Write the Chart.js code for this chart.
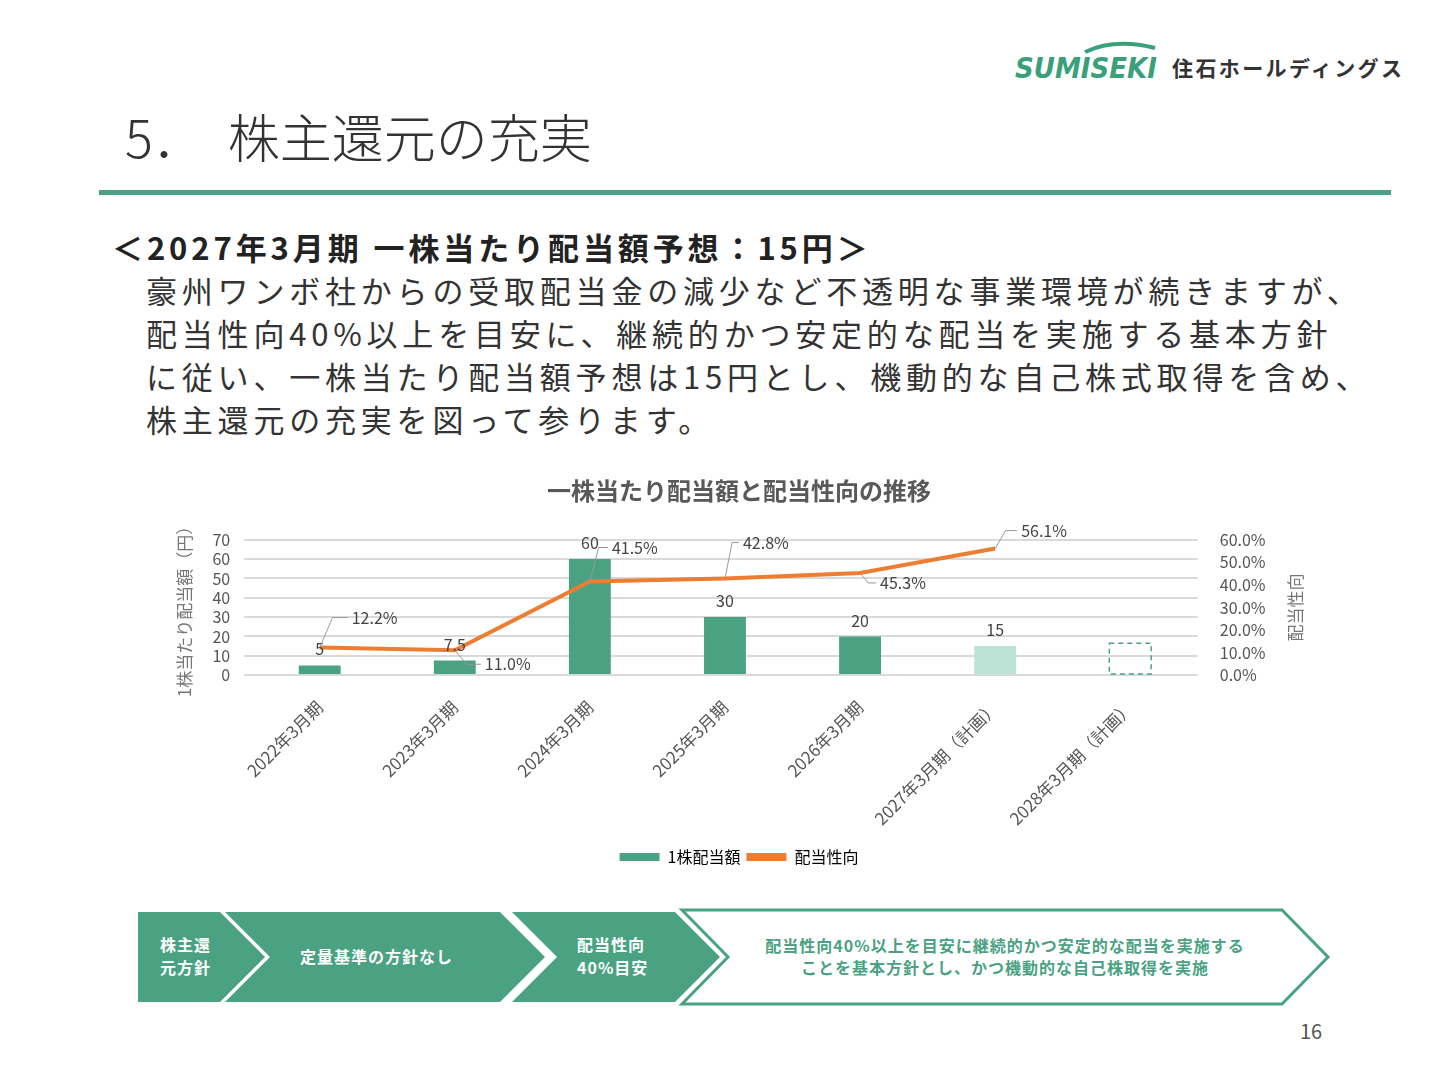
<!DOCTYPE html>
<html><head><meta charset="utf-8">
<script src="https://cdn.jsdelivr.net/npm/chart.js@4"></script>
<style>
body{margin:0;width:1440px;height:1080px;background:#fff;font-family:"Noto Sans CJK JP","Noto Sans",sans-serif;position:relative;overflow:hidden;color:#333}
.abs{position:absolute}
#h1{left:125px;top:98px;font-size:52px;font-weight:300;color:#333;white-space:pre}
#rule{left:99px;top:190px;width:1292px;height:5px;background:#4aa283}
#sub{left:112px;top:224px;font-size:31px;font-weight:700;color:#222;letter-spacing:3.9px}
#body{left:146px;top:268px;font-size:31px;line-height:43px;color:#333;letter-spacing:4.8px;font-weight:400;white-space:nowrap}
#logo{left:1015px;top:38px}
#wrap{left:160px;top:470px;width:1160px;height:405px}
#pg{left:1300px;top:1016px;font-size:20px;color:#555}
</style></head><body>
<div id="logo" class="abs">
<svg width="400" height="50">
<path d="M70 14 Q100 0 140 10" stroke="#3aa07a" stroke-width="4" fill="none"/>
<text x="0" y="40" font-family="DejaVu Sans" font-style="italic" font-weight="bold" font-size="28" fill="#3aa07a" textLength="142" lengthAdjust="spacingAndGlyphs">SUMISEKI</text>
<text x="157" y="38" font-family="Noto Sans CJK JP" font-weight="bold" font-size="21" fill="#333" textLength="230">住石ホールディングス</text>
</svg></div>
<div id="h1" class="abs">5．  株主還元の充実</div>
<div id="rule" class="abs"></div>
<div id="sub" class="abs">＜2027年3月期 一株当たり配当額予想：15円＞</div>
<div id="body" class="abs">豪州ワンボ社からの受取配当金の減少など不透明な事業環境が続きますが、<br>配当性向40%以上を目安に、継続的かつ安定的な配当を実施する基本方針<br>に従い、一株当たり配当額予想は15円とし、機動的な自己株式取得を含め、<br>株主還元の充実を図って参ります。</div>
<div id="wrap" class="abs"><canvas id="chart"></canvas></div>
<svg class="abs" style="left:0;top:900px" width="1440" height="120">
<polygon points="138,12 220,12 265,57 220,102 138,102" fill="#4aa283"/>
<polygon points="225,12 500,12 545,57 500,102 225,102 270,57" fill="#4aa283"/>
<polygon points="512,12 675,12 720,57 675,102 512,102 557,57" fill="#4aa283"/>
<polygon points="682,10 1282,10 1328,57 1282,104 682,104 728,57" fill="#fff" stroke="#4aa283" stroke-width="3"/>
<g font-family="Noto Sans CJK JP" font-weight="bold" font-size="16" fill="#fff" letter-spacing="1">
<text x="160" y="51">株主還</text><text x="160" y="74">元方針</text>
<text x="300" y="63">定量基準の方針なし</text>
<text x="577" y="51">配当性向</text><text x="577" y="74">40%目安</text>
</g>
<g font-family="Noto Sans CJK JP" font-weight="bold" font-size="16" fill="#4aa283" text-anchor="middle" letter-spacing="1">
<text x="1005" y="52">配当性向40%以上を目安に継続的かつ安定的な配当を実施する</text>
<text x="1005" y="74">ことを基本方針とし、かつ機動的な自己株取得を実施</text>
</g>
</svg>
<div id="pg" class="abs">16</div>
<script>
// データ
const labels = ["2022年3月期","2023年3月期","2024年3月期","2025年3月期","2026年3月期","2027年3月期（計画）","2028年3月期（計画）"];
const dividend = [5, 7.5, 60, 30, 20, 15, 16.5];
const payout = [12.2, 11.0, 41.5, 42.8, 45.3, 56.1, null];
const dividendLabels = ["5","7.5","60","30","20","15",""];

const green = "#4aa283";
const font = "'Noto Sans CJK JP','Noto Sans',sans-serif";

// 配当性向ラベルの位置（引き出し線付き）
const offs = [[32,-30],[30,14],[22,-34],[18,-36],[20,10],[26,-18]];

const labelPlugin = {
  id: "labels",
  afterDatasetsDraw(chart) {
    const c = chart.ctx;
    c.save();
    c.font = "16px " + font;
    c.fillStyle = "#444";
    c.textAlign = "center";
    c.textBaseline = "bottom";
    const bars = chart.getDatasetMeta(1).data;
    bars.forEach((b, i) => {
      if (dividendLabels[i]) c.fillText(dividendLabels[i], b.x, b.y - 8);
    });
    // 2028年は点線枠
    const b = bars[6];
    c.setLineDash([5, 4]);
    c.strokeStyle = green;
    c.lineWidth = 1.5;
    c.strokeRect(b.x - b.width / 2, b.y, b.width, b.base - b.y);
    c.setLineDash([]);
    // 配当性向
    const pts = chart.getDatasetMeta(0).data;
    c.textAlign = "left";
    c.textBaseline = "middle";
    c.strokeStyle = "#999";
    c.lineWidth = 1;
    pts.forEach((p, i) => {
      if (payout[i] == null) return;
      const [dx, dy] = offs[i];
      c.beginPath();
      c.moveTo(p.x, p.y);
      c.lineTo(p.x + dx * 0.4, p.y + dy);
      c.lineTo(p.x + dx - 4, p.y + dy);
      c.stroke();
      c.fillText(payout[i].toFixed(1) + "%", p.x + dx, p.y + dy);
    });
    // 右軸タイトル（下から上へ）
    const ya = chart.scales.y2;
    c.translate(ya.right - 12, (ya.top + ya.bottom) / 2);
    c.rotate(-Math.PI / 2);
    c.textAlign = "center";
    c.font = "17px " + font;
    c.fillStyle = "#777";
    c.fillText("配当性向", 0, 0);
    c.restore();
  }
};

Chart.defaults.font.family = font;
Chart.defaults.color = "#555";

new Chart(document.getElementById("chart"), {
  data: {
    labels: labels,
    datasets: [
      {
        type: "line", label: "配当性向", data: payout, yAxisID: "y2",
        borderColor: "#ed7d31", backgroundColor: "#ed7d31", borderWidth: 4,
        pointRadius: 0, tension: 0, order: 0
      },
      {
        type: "bar", label: "1株配当額", data: dividend, yAxisID: "y",
        backgroundColor: [green, green, green, green, green, "#bde3d6", "rgba(0,0,0,0)"],
        barPercentage: 0.31, categoryPercentage: 1, order: 1
      }
    ]
  },
  options: {
    responsive: true, maintainAspectRatio: false, animation: false,
    layout: { padding: { top: 0, right: 12, left: 10, bottom: 0 } },
    plugins: {
      title: { display: true, text: "一株当たり配当額と配当性向の推移", color: "#595959",
        font: { size: 24, weight: "bold" }, padding: { top: 6, bottom: 35 } },
      legend: {
        position: "bottom",
        labels: {
          font: { size: 16 }, boxWidth: 40, boxHeight: 8, color: "#555", padding: 6,
          generateLabels(chart) {
            return [
              { text: "1株配当額", fillStyle: green, strokeStyle: green, lineWidth: 0, datasetIndex: 1 },
              { text: "配当性向", fillStyle: "#ed7d31", strokeStyle: "#ed7d31", lineWidth: 0, datasetIndex: 0 }
            ];
          }
        }
      },
      tooltip: { enabled: false }
    },
    scales: {
      x: {
        grid: { display: false },
        border: { display: false },
        ticks: { maxRotation: 45, minRotation: 45, font: { size: 17 }, color: "#555", padding: 14 }
      },
      y: {
        min: 0, max: 70, position: "left",
        ticks: { stepSize: 10, autoSkip: false, font: { size: 16 }, color: "#555", padding: 14 },
        grid: { color: "#d9d9d9", lineWidth: 2 },
        border: { display: false },
        title: { display: true, text: "1株当たり配当額（円）", font: { size: 17 }, color: "#777" }
      },
      y2: {
        min: 0, max: 60, position: "right",
        ticks: { stepSize: 10, autoSkip: false, font: { size: 16 }, color: "#555", padding: 14, callback: v => v.toFixed(1) + "%" },
        grid: { display: false },
        border: { display: false },
        title: { display: true, text: "配当性向", font: { size: 17 }, color: "rgba(0,0,0,0)" }
      }
    }
  },
  plugins: [labelPlugin]
});
</script>
</body></html>
